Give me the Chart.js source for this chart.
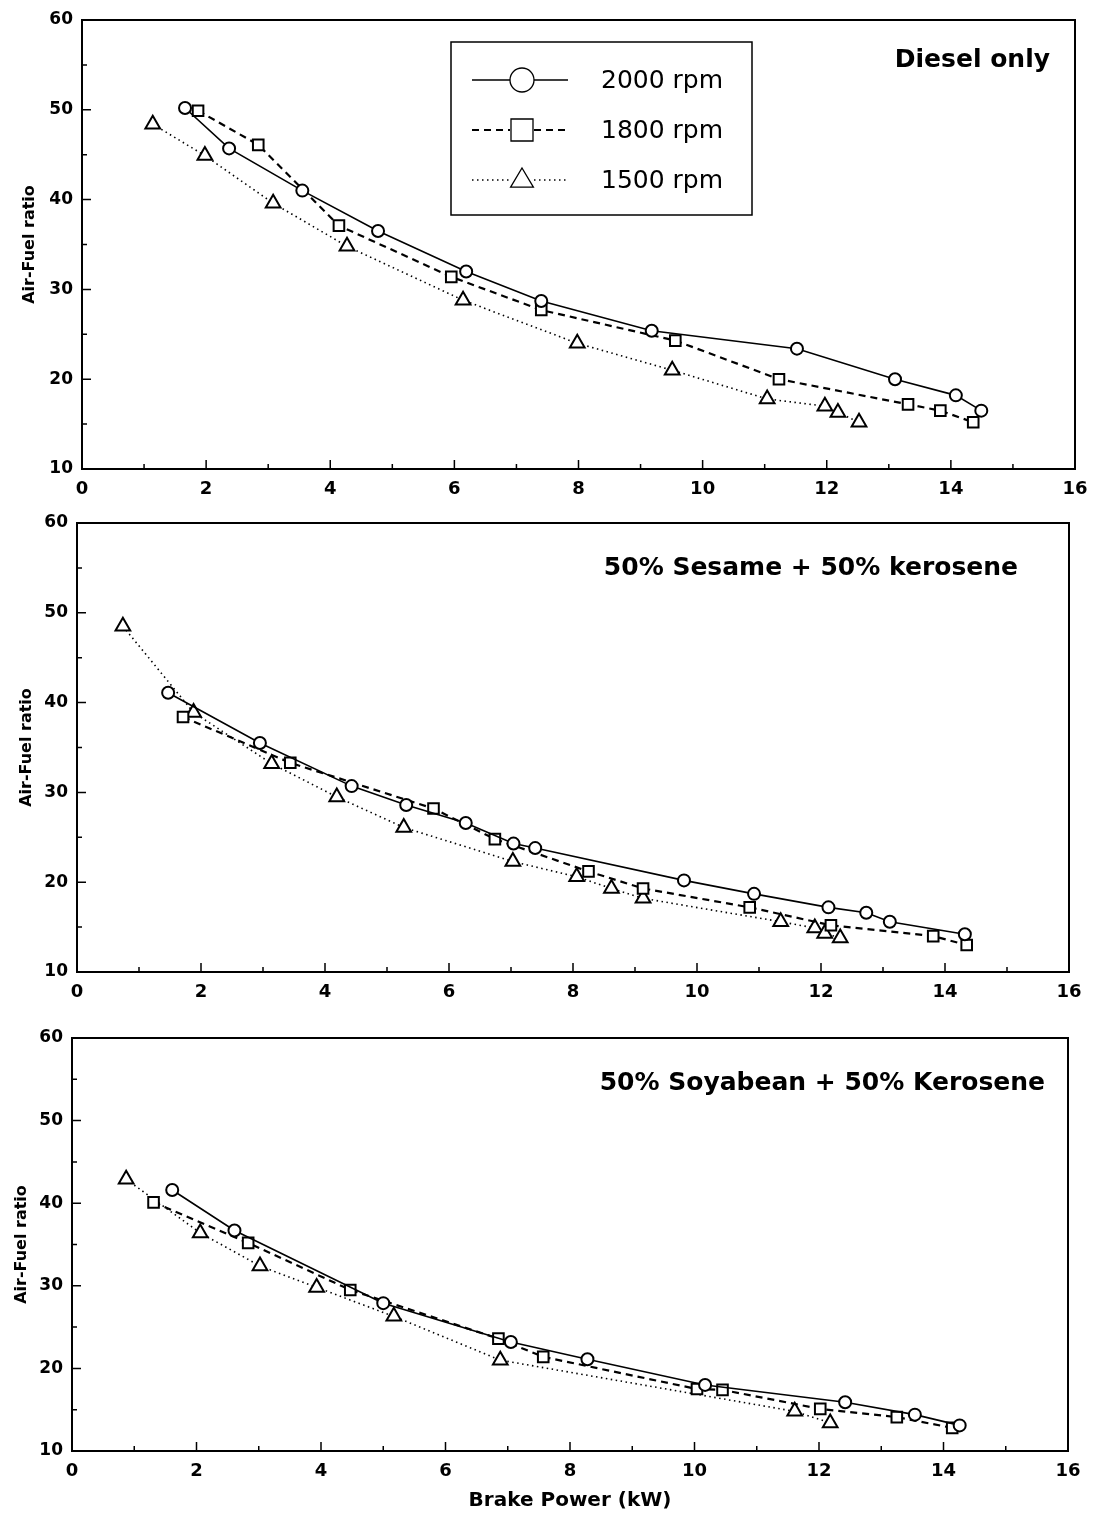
<!DOCTYPE html>
<html lang="en">
<head>
<meta charset="UTF-8" />
<title>Air-Fuel ratio vs Brake Power</title>
<script src="https://cdn.jsdelivr.net/npm/chart.js"></script>
<style>
  body { margin: 0; background: #fff; width: 1101px; height: 1524px; position: relative; overflow: hidden; }
  .panel { position: absolute; left: 0; width: 1101px; }
</style>
</head>
<body>
<div class="panel" id="p1"><canvas id="c1"></canvas></div>
<div class="panel" id="p2"><canvas id="c2"></canvas></div>
<div class="panel" id="p3"><canvas id="c3"></canvas></div>

<script>
// axis ticks and labels
const xTicks = [0, 2, 4, 6, 8, 10, 12, 14, 16];
const yTicks = [10, 20, 30, 40, 50, 60];
const speeds = ['2000 rpm', '1800 rpm', '1500 rpm'];
const panelTitles = ['Diesel only', '50% Sesame + 50% kerosene', '50% Soyabean + 50% Kerosene'];

// Diesel only
const dieselPower2000 = [1.66, 2.37, 3.55, 4.77, 6.19, 7.40, 9.18, 11.52, 13.10, 14.08, 14.49];
const dieselAfr2000   = [50.2, 45.7, 41.0, 36.5, 32.0, 28.7, 25.4, 23.4, 20.0, 18.2, 16.5];
const dieselPower1800 = [1.87, 2.84, 4.14, 5.95, 7.40, 9.56, 11.23, 13.31, 13.83, 14.36];
const dieselAfr1800   = [49.9, 46.1, 37.1, 31.4, 27.7, 24.3, 20.0, 17.2, 16.5, 15.2];
const dieselPower1500 = [1.14, 1.98, 3.08, 4.27, 6.14, 7.98, 9.51, 11.04, 11.97, 12.18, 12.52];
const dieselAfr1500   = [48.4, 44.9, 39.6, 34.8, 28.8, 24.0, 21.0, 17.8, 17.0, 16.3, 15.2];

// 50% sesame + 50% kerosene
const sesamePower2000 = [1.47, 2.95, 4.43, 5.31, 6.27, 7.04, 7.39, 9.79, 10.92, 12.12, 12.73, 13.11, 14.32];
const sesameAfr2000   = [41.1, 35.5, 30.7, 28.6, 26.6, 24.3, 23.8, 20.2, 18.7, 17.2, 16.6, 15.6, 14.2];
const sesamePower1800 = [1.71, 3.44, 5.75, 6.74, 8.25, 9.13, 10.85, 12.16, 13.81, 14.35];
const sesameAfr1800   = [38.4, 33.3, 28.2, 24.8, 21.2, 19.3, 17.2, 15.2, 14.0, 13.0];
const sesamePower1500 = [0.74, 1.88, 3.14, 4.19, 5.27, 7.03, 8.06, 8.62, 9.13, 11.35, 11.90, 12.06, 12.31];
const sesameAfr1500   = [48.5, 38.9, 33.2, 29.5, 26.1, 22.3, 20.6, 19.3, 18.2, 15.6, 14.9, 14.3, 13.8];

// 50% soyabean + 50% kerosene
const soyaPower2000 = [1.61, 2.61, 5.00, 7.05, 8.28, 10.17, 12.42, 13.54, 14.26];
const soyaAfr2000   = [41.6, 36.7, 27.9, 23.2, 21.1, 18.0, 15.9, 14.4, 13.1];
const soyaPower1800 = [1.31, 2.83, 4.47, 6.85, 7.57, 10.04, 10.45, 12.02, 13.25, 14.14];
const soyaAfr1800   = [40.1, 35.2, 29.5, 23.6, 21.4, 17.5, 17.4, 15.1, 14.1, 12.8];
const soyaPower1500 = [0.87, 2.06, 3.02, 3.93, 5.17, 6.88, 11.61, 12.18];
const soyaAfr1500   = [42.9, 36.4, 32.4, 29.8, 26.3, 21.0, 14.8, 13.4];

const FONT = "'DejaVu Sans', sans-serif";

// line / marker look for each engine speed
const looks = [
  { pointStyle: 'circle',   pointRadius: 6,   borderWidth: 1.6, borderDash: [] },
  { pointStyle: 'rect',     pointRadius: 7.5, borderWidth: 2.2, borderDash: [7, 5] },
  { pointStyle: 'triangle', pointRadius: 8.5, borderWidth: 1.6, borderDash: [1.5, 3.5] }
];

function pairs(xs, ys) {
  return xs.map((x, i) => ({ x: x, y: ys[i] }));
}

function makeDataset(i, xs, ys) {
  const l = looks[i];
  return {
    label: speeds[i],
    data: pairs(xs, ys),
    showLine: true,
    borderColor: '#000',
    borderWidth: l.borderWidth,
    borderDash: l.borderDash,
    pointStyle: l.pointStyle,
    pointRadius: l.pointRadius,
    pointBorderWidth: 2,
    pointBorderColor: '#000',
    pointBackgroundColor: '#fff',
    tension: 0
  };
}

// box round the plot area, inward tick marks, panel title and legend
const framePlugin = {
  id: 'frame',
  afterDatasetsDraw(chart, args, opts) {
    const { ctx, chartArea: a, scales: { x, y } } = chart;
    ctx.save();
    ctx.strokeStyle = '#000';
    ctx.lineWidth = 2;
    ctx.strokeRect(a.left, a.top, a.right - a.left, a.bottom - a.top);
    ctx.lineWidth = 1.5;
    ctx.beginPath();
    for (let v = 1; v < 16; v++) {
      const px = x.getPixelForValue(v);
      const len = v % 2 ? 5 : 9;
      ctx.moveTo(px, a.bottom);
      ctx.lineTo(px, a.bottom - len);
    }
    for (let v = 15; v < 60; v += 5) {
      const py = y.getPixelForValue(v);
      const len = v % 10 ? 5 : 9;
      ctx.moveTo(a.left, py);
      ctx.lineTo(a.left + len, py);
    }
    ctx.stroke();

    // panel title
    ctx.fillStyle = '#000';
    ctx.font = 'bold 25px ' + FONT;
    ctx.textAlign = 'right';
    ctx.textBaseline = 'middle';
    ctx.fillText(opts.title, a.right - opts.titleInset, a.top + opts.titleDrop);

    if (opts.legend) drawLegend(ctx, opts.legend);
    ctx.restore();
  }
};

function drawMarker(ctx, style, cx, cy, r) {
  ctx.beginPath();
  if (style === 'circle') {
    ctx.arc(cx, cy, r, 0, Math.PI * 2);
  } else if (style === 'rect') {
    ctx.rect(cx - r, cy - r, 2 * r, 2 * r);
  } else {
    ctx.moveTo(cx, cy - r);
    ctx.lineTo(cx + r * 0.95, cy + r * 0.6);
    ctx.lineTo(cx - r * 0.95, cy + r * 0.6);
    ctx.closePath();
  }
  ctx.fillStyle = '#fff';
  ctx.fill();
  ctx.stroke();
}

function drawLegend(ctx, lg) {
  ctx.strokeStyle = '#000';
  ctx.lineWidth = 1.5;
  ctx.setLineDash([]);
  ctx.strokeRect(lg.x, lg.y, lg.w, lg.h);
  ctx.font = '25px ' + FONT;
  ctx.textAlign = 'left';
  ctx.textBaseline = 'middle';
  speeds.forEach((s, i) => {
    const l = looks[i];
    const cy = lg.y + 38 + i * 50;
    const mx = lg.x + 71;
    ctx.lineWidth = l.borderWidth * 0.8;
    ctx.setLineDash(l.borderDash);
    ctx.beginPath();
    ctx.moveTo(lg.x + 21, cy);
    ctx.lineTo(mx - 12, cy);
    ctx.moveTo(mx + 12, cy);
    ctx.lineTo(mx + 46, cy);
    ctx.stroke();
    ctx.setLineDash([]);
    ctx.lineWidth = 1.3;
    drawMarker(ctx, l.pointStyle, mx, cy, l.pointStyle === 'rect' ? 11 : 12);
    ctx.fillStyle = '#000';
    ctx.fillText(s, lg.x + 150, cy + 1);
  });
}

function makePanel(canvasId, box, datasets, frameOpts, xTitle) {
  const axisH = xTitle ? 66 : 40;
  const holder = document.getElementById(canvasId).parentNode;
  holder.style.top = (box.top - 20) + 'px';
  holder.style.height = (20 + box.bottom - box.top + axisH) + 'px';

  new Chart(document.getElementById(canvasId), {
    type: 'scatter',
    data: { datasets: datasets },
    options: {
      responsive: true,
      maintainAspectRatio: false,
      animation: false,
      layout: { padding: { top: 20, right: 1101 - box.right, left: 0, bottom: 0 } },
      plugins: {
        legend: { display: false },
        tooltip: { enabled: false },
        frame: frameOpts
      },
      scales: {
        x: {
          type: 'linear', min: 0, max: 16,
          afterBuildTicks: s => { s.ticks = xTicks.map(v => ({ value: v })); },
          afterFit: s => { s.height = axisH; },
          grid: { display: false, drawTicks: false },
          border: { display: false },
          ticks: { color: '#000', padding: 10, font: { family: FONT, weight: 'bold', size: 18 } },
          title: {
            display: !!xTitle, text: xTitle || '', color: '#000',
            font: { family: FONT, weight: 'bold', size: 20 }, padding: { top: 0, bottom: 4 }
          }
        },
        y: {
          type: 'linear', min: 10, max: 60,
          afterBuildTicks: s => { s.ticks = yTicks.map(v => ({ value: v })); },
          afterFit: s => { s.width = box.left; },
          grid: { display: false, drawTicks: false },
          border: { display: false },
          ticks: { color: '#000', padding: 9, font: { family: FONT, weight: 'bold', size: 17 } },
          title: {
            display: true, text: 'Air-Fuel ratio', color: '#000',
            font: { family: FONT, weight: 'bold', size: 16 }, padding: { top: box.titlePad, bottom: 0 }
          }
        }
      }
    },
    plugins: [framePlugin]
  });
}

makePanel('c1', { left: 82, top: 20, right: 1075, bottom: 469, titlePad: 20 }, [
  makeDataset(0, dieselPower2000, dieselAfr2000),
  makeDataset(1, dieselPower1800, dieselAfr1800),
  makeDataset(2, dieselPower1500, dieselAfr1500)
], { title: panelTitles[0], titleInset: 25, titleDrop: 40, legend: { x: 451, y: 42, w: 301, h: 173 } });

makePanel('c2', { left: 77, top: 523, right: 1069, bottom: 972, titlePad: 17 }, [
  makeDataset(0, sesamePower2000, sesameAfr2000),
  makeDataset(1, sesamePower1800, sesameAfr1800),
  makeDataset(2, sesamePower1500, sesameAfr1500)
], { title: panelTitles[1], titleInset: 51, titleDrop: 45 });

makePanel('c3', { left: 72, top: 1038, right: 1068, bottom: 1451, titlePad: 12 }, [
  makeDataset(0, soyaPower2000, soyaAfr2000),
  makeDataset(1, soyaPower1800, soyaAfr1800),
  makeDataset(2, soyaPower1500, soyaAfr1500)
], { title: panelTitles[2], titleInset: 23, titleDrop: 45 }, 'Brake Power (kW)');
</script>
</body>
</html>
